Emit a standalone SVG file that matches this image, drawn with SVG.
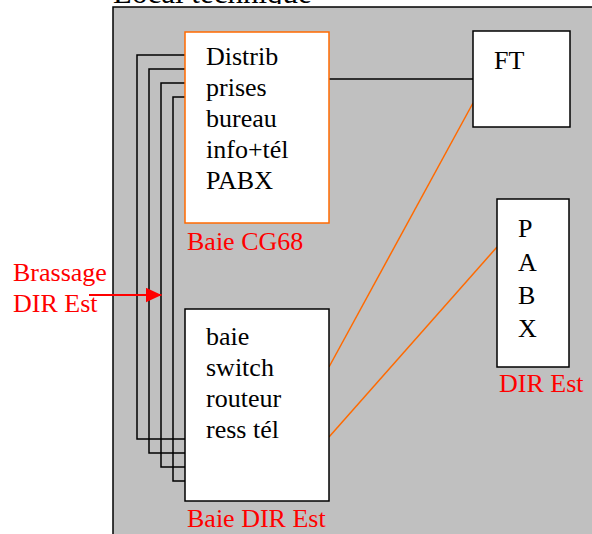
<svg xmlns="http://www.w3.org/2000/svg" width="592" height="534" viewBox="0 0 592 534">
<style>
text{font-family:"Liberation Serif","Times New Roman",serif;font-size:26px;fill:#000}
.red{fill:#ff0000}
.box{fill:#fff;stroke:#000;stroke-width:1.5}
.obox{fill:#fff;stroke:#ff6a00;stroke-width:1.5}
.wire{fill:none;stroke:#000;stroke-width:1.5}
.orange{fill:none;stroke:#ff6a00;stroke-width:1.5}
</style>
<defs>
<clipPath id="topclip"><rect x="0" y="0" width="592" height="4"/></clipPath>
<marker id="arr" markerWidth="16" markerHeight="15" refX="16" refY="7.5" orient="auto" markerUnits="userSpaceOnUse"><path d="M0,0 L16,7.5 L0,15 Z" fill="#ff0000"/></marker>
</defs>
<rect width="592" height="534" fill="#fff"/>
<g id="title"><text x="113" y="3" style="font-size:31px" clip-path="url(#topclip)">Local technique</text></g>
<g id="local"><rect x="113" y="7" width="500" height="600" fill="#c0c0c0" stroke="#000" stroke-width="1.5"/></g>
<g id="connectors">
<path class="wire" d="M185,55 H137 V439 H185"/>
<path class="wire" d="M185,69 H149 V453 H185"/>
<path class="wire" d="M185,83 H161 V467 H185"/>
<path class="wire" d="M185,97 H173 V481 H185"/>
<path class="wire" d="M329,79 H473"/>
<path class="orange" d="M473,103 L329,367"/>
<path class="orange" d="M497,247 L329,437"/>
<path d="M89,295 H161.5" stroke="#ff0000" stroke-width="2" fill="none" marker-end="url(#arr)"/>
</g>
<g id="cg68">
<rect class="obox" x="185" y="32" width="144" height="191"/>
<text x="206" y="65">Distrib</text>
<text x="206" y="96">prises</text>
<text x="206" y="127">bureau</text>
<text x="206" y="158">info+tél</text>
<text x="206" y="189">PABX</text>
<text class="red" x="187" y="250">Baie CG68</text>
</g>
<g id="direst">
<rect class="box" x="185" y="309" width="144" height="192"/>
<text x="206" y="345">baie</text>
<text x="206" y="376">switch</text>
<text x="206" y="407">routeur</text>
<text x="206" y="438">ress tél</text>
<text class="red" x="187" y="527">Baie DIR Est</text>
</g>
<g id="ft">
<rect class="box" x="473" y="31" width="97" height="96"/>
<text x="494" y="69">FT</text>
</g>
<g id="pabx">
<rect class="box" x="497" y="199" width="72" height="168"/>
<text x="518" y="237">P</text>
<text x="518" y="271">A</text>
<text x="518" y="304">B</text>
<text x="518" y="337">X</text>
<text class="red" x="499" y="392">DIR Est</text>
</g>
<g id="brassage">
<text class="red" x="13" y="281">Brassage</text>
<text class="red" x="13" y="312">DIR Est</text>
</g>
</svg>
